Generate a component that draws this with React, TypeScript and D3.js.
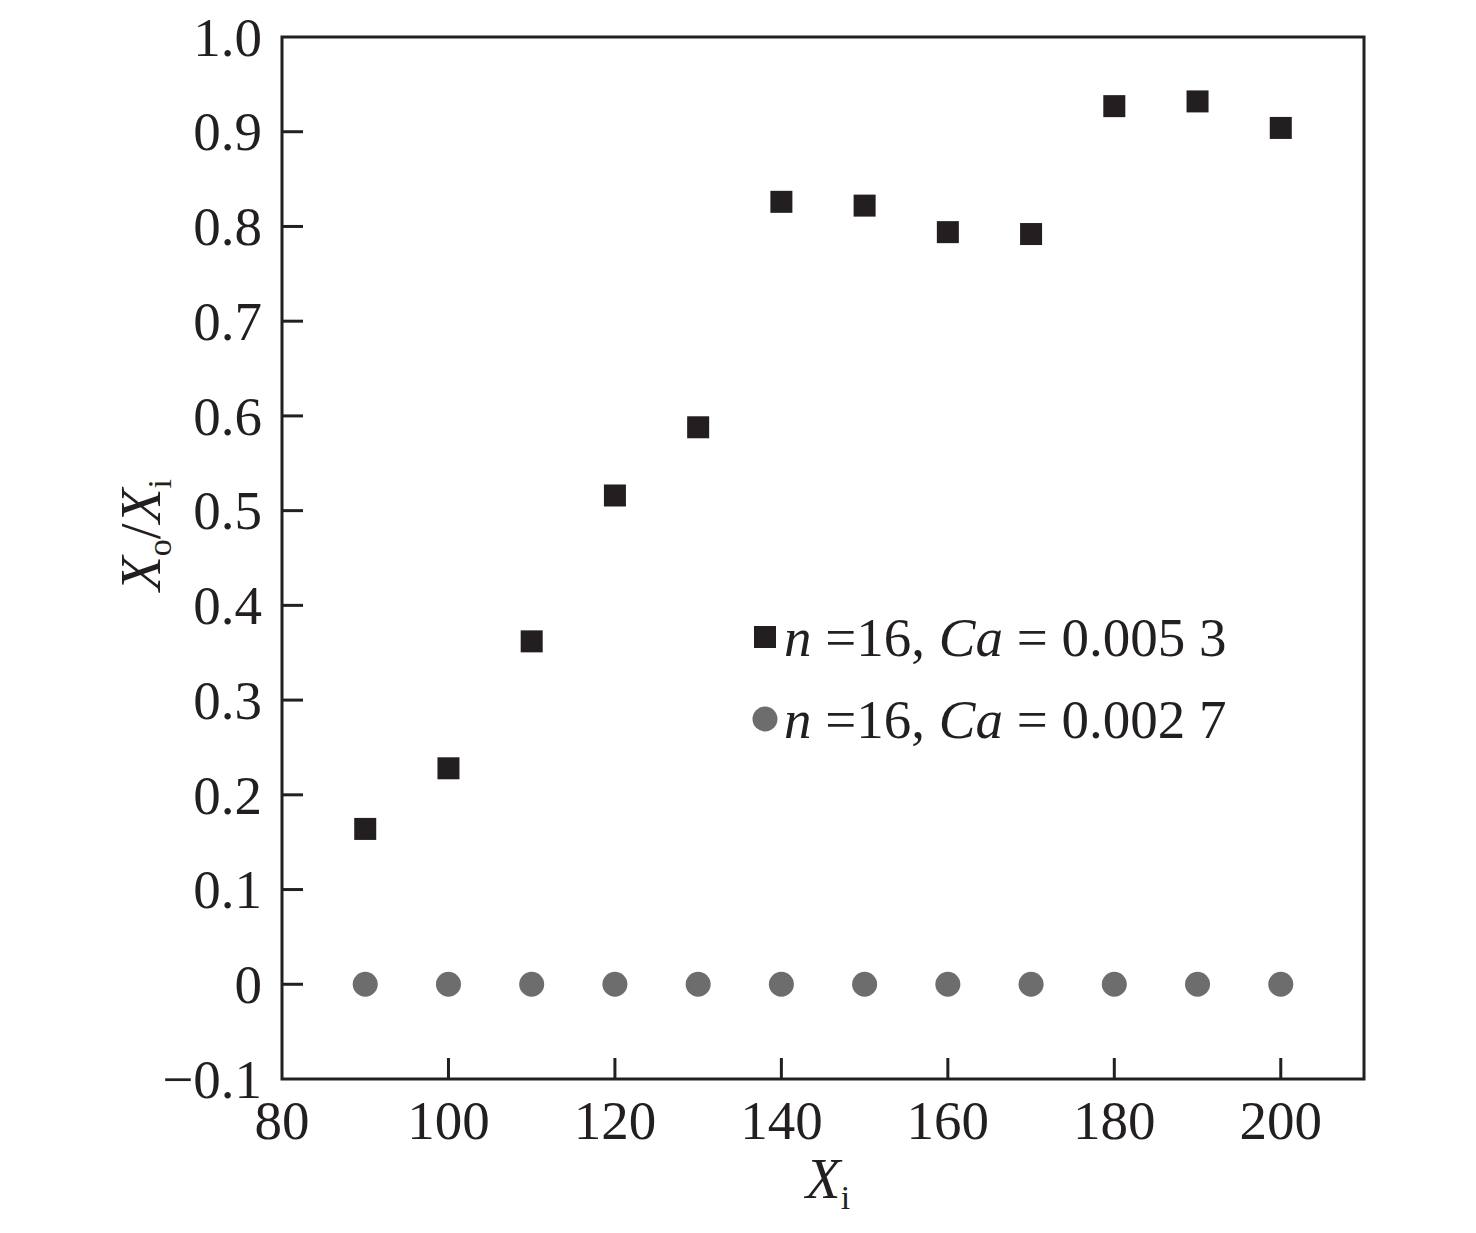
import React, { useEffect, useRef } from "react";
import * as d3 from "d3";

const xValues = [90, 100, 110, 120, 130, 140, 150, 160, 170, 180, 190, 200];
const seriesCa0053 = [0.164, 0.228, 0.362, 0.516, 0.588, 0.826, 0.822, 0.794, 0.792, 0.927, 0.932, 0.904];
const seriesCa0027 = [0, 0, 0, 0, 0, 0, 0, 0, 0, 0, 0, 0];
const xTicks = [80, 100, 120, 140, 160, 180, 200];
const yTicks = [-0.1, 0, 0.1, 0.2, 0.3, 0.4, 0.5, 0.6, 0.7, 0.8, 0.9, 1.0];

const W = 1476;
const H = 1233;
const M = { left: 282, right: 1364, top: 37, bottom: 1079 };
const FONT = "'Liberation Serif', 'Times New Roman', serif";
const DARK = "#231f20";
const GRAY = "#6d6d6d";
const FS = 55;
const SUB = 34;

function fmtY(v: number) {
  if (Math.abs(v) < 1e-9) return "0";
  const s = Math.abs(v).toFixed(1);
  return v < 0 ? "\u2212" + s : s;
}

export default function App() {
  const ref = useRef<SVGSVGElement | null>(null);

  useEffect(() => {
    const svg = d3.select(ref.current);
    svg.selectAll("*").remove();

    const x = d3.scaleLinear().domain([80, 210]).range([M.left, M.right]);
    const y = d3.scaleLinear().domain([-0.1, 1.0]).range([M.bottom, M.top]);

    const g = svg.append("g");

    g.append("rect")
      .attr("x", M.left)
      .attr("y", M.top)
      .attr("width", M.right - M.left)
      .attr("height", M.bottom - M.top)
      .attr("fill", "none")
      .attr("stroke", DARK)
      .attr("stroke-width", 3);

    yTicks.forEach((t) => {
      if (t > -0.1 + 1e-9 && t < 1.0 - 1e-9) {
        g.append("line")
          .attr("x1", M.left)
          .attr("x2", M.left + 21)
          .attr("y1", y(t))
          .attr("y2", y(t))
          .attr("stroke", DARK)
          .attr("stroke-width", 3);
      }
      g.append("text")
        .attr("x", 262)
        .attr("y", y(t))
        .attr("dy", "0.34em")
        .attr("text-anchor", "end")
        .attr("font-family", FONT)
        .attr("font-size", FS)
        .attr("fill", DARK)
        .text(fmtY(t));
    });

    xTicks.forEach((t) => {
      if (t > 80) {
        g.append("line")
          .attr("x1", x(t))
          .attr("x2", x(t))
          .attr("y1", M.bottom)
          .attr("y2", M.bottom - 21)
          .attr("stroke", DARK)
          .attr("stroke-width", 3);
      }
      g.append("text")
        .attr("x", x(t))
        .attr("y", 1139)
        .attr("text-anchor", "middle")
        .attr("font-family", FONT)
        .attr("font-size", FS)
        .attr("fill", DARK)
        .text(String(t));
    });

    g.selectAll("circle.s2")
      .data(xValues.map((v, i) => [v, seriesCa0027[i]]))
      .enter()
      .append("circle")
      .attr("cx", (d) => x(d[0]))
      .attr("cy", (d) => y(d[1]))
      .attr("r", 12.5)
      .attr("fill", GRAY);

    const sq = 22;
    g.selectAll("rect.s1")
      .data(xValues.map((v, i) => [v, seriesCa0053[i]]))
      .enter()
      .append("rect")
      .attr("x", (d) => x(d[0]) - sq / 2)
      .attr("y", (d) => y(d[1]) - sq / 2)
      .attr("width", sq)
      .attr("height", sq)
      .attr("fill", DARK);

    const legend = [
      { shape: "square", ca: "0.005 3", yy: 637 },
      { shape: "circle", ca: "0.002 7", yy: 719 },
    ];
    legend.forEach((l) => {
      if (l.shape === "square") {
        g.append("rect")
          .attr("x", 765 - sq / 2)
          .attr("y", l.yy - sq / 2)
          .attr("width", sq)
          .attr("height", sq)
          .attr("fill", DARK);
      } else {
        g.append("circle").attr("cx", 765).attr("cy", l.yy).attr("r", 12.5).attr("fill", GRAY);
      }
      const t = g
        .append("text")
        .attr("x", 784)
        .attr("y", l.yy)
        .attr("dy", "0.34em")
        .attr("font-family", FONT)
        .attr("font-size", FS)
        .attr("fill", DARK);
      t.append("tspan").attr("font-style", "italic").text("n");
      t.append("tspan").text(" =16, ");
      t.append("tspan").attr("font-style", "italic").text("Ca");
      t.append("tspan").text(" = " + l.ca);
    });

    const xl = g
      .append("text")
      .attr("x", 828)
      .attr("y", 1198)
      .attr("text-anchor", "middle")
      .attr("font-family", FONT)
      .attr("font-size", FS + 2)
      .attr("fill", DARK);
    xl.append("tspan").attr("font-style", "italic").text("X");
    xl.append("tspan").attr("font-size", SUB).attr("dy", 11).text("i");

    const yl = g
      .append("text")
      .attr("transform", "translate(160,535) rotate(-90)")
      .attr("text-anchor", "middle")
      .attr("font-family", FONT)
      .attr("font-size", FS + 2)
      .attr("fill", DARK);
    yl.append("tspan").attr("font-style", "italic").text("X");
    yl.append("tspan").attr("font-size", SUB).attr("dy", 11).text("o");
    yl.append("tspan").attr("dy", -11).text("/");
    yl.append("tspan").attr("font-style", "italic").text("X");
    yl.append("tspan").attr("font-size", SUB).attr("dy", 11).text("i");
  }, []);

  return (
    <svg
      ref={ref}
      width={W}
      height={H}
      style={{ display: "block", position: "absolute", left: 0, top: 0, background: "#fff" }}
    />
  );
}
